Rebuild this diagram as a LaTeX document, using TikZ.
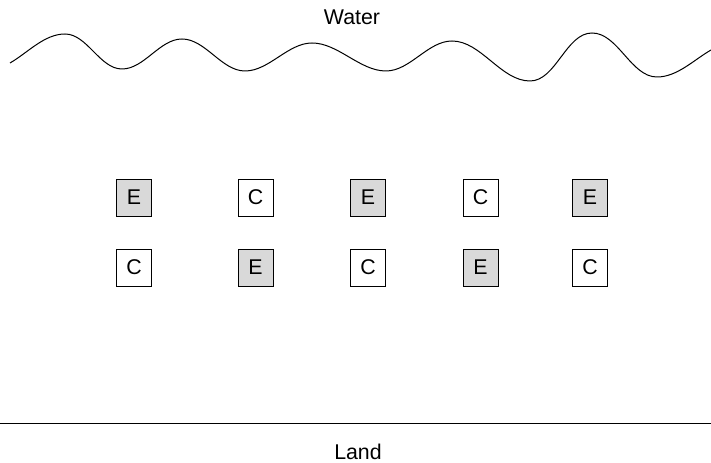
\documentclass[tikz,border=0pt]{standalone}
\usepackage{fontspec}
\setmainfont{Liberation Sans}
\definecolor{plotgray}{HTML}{D9D9D9}
\begin{document}
\begin{tikzpicture}[x=.75pt,y=.75pt,line width=.75pt,every node/.style={font=\fontsize{16}{18}\selectfont},
  plotbox/.style={draw,line width=.6pt,minimum width=26.25pt,minimum height=27.75pt,inner sep=0pt},
  ebox/.style={plotbox,fill=plotgray},cbox/.style={plotbox,fill=white},
  swell/.style={out=0,in=180,looseness=.85}]
  \useasboundingbox (0,0) rectangle (711,463);
  % water edge
  \node (water) at (352,446) {Water};
  \draw (10,400) to[out=30,in=180,looseness=.85] (65,429) to[swell] (122,394)
    to[swell] (182,424) to[swell] (245,392)
    to[swell] (312,420) to[swell] (386,392)
    to[swell] (452,422) to[swell] (530,382)
    to[swell] (592,430) to[swell] (657,386)
    to[out=0,in=210,looseness=.85] (711,413);
  % plots, top row
  \node[ebox] (e11) at (134,265.5) {E};
  \node[cbox] (c12) at (255.5,265.5) {C};
  \node[ebox] (e13) at (368,265.5) {E};
  \node[cbox] (c14) at (480.5,265.5) {C};
  \node[ebox] (e15) at (590,265.5) {E};
  % plots, bottom row
  \node[cbox] (c21) at (134,195.5) {C};
  \node[ebox] (e22) at (255.5,195.5) {E};
  \node[cbox] (c23) at (368,195.5) {C};
  \node[ebox] (e24) at (480.5,195.5) {E};
  \node[cbox] (c25) at (590,195.5) {C};
  % land edge
  \draw (0,39) -- (711,39);
  \node (land) at (358,11) {Land};
\end{tikzpicture}
\end{document}
